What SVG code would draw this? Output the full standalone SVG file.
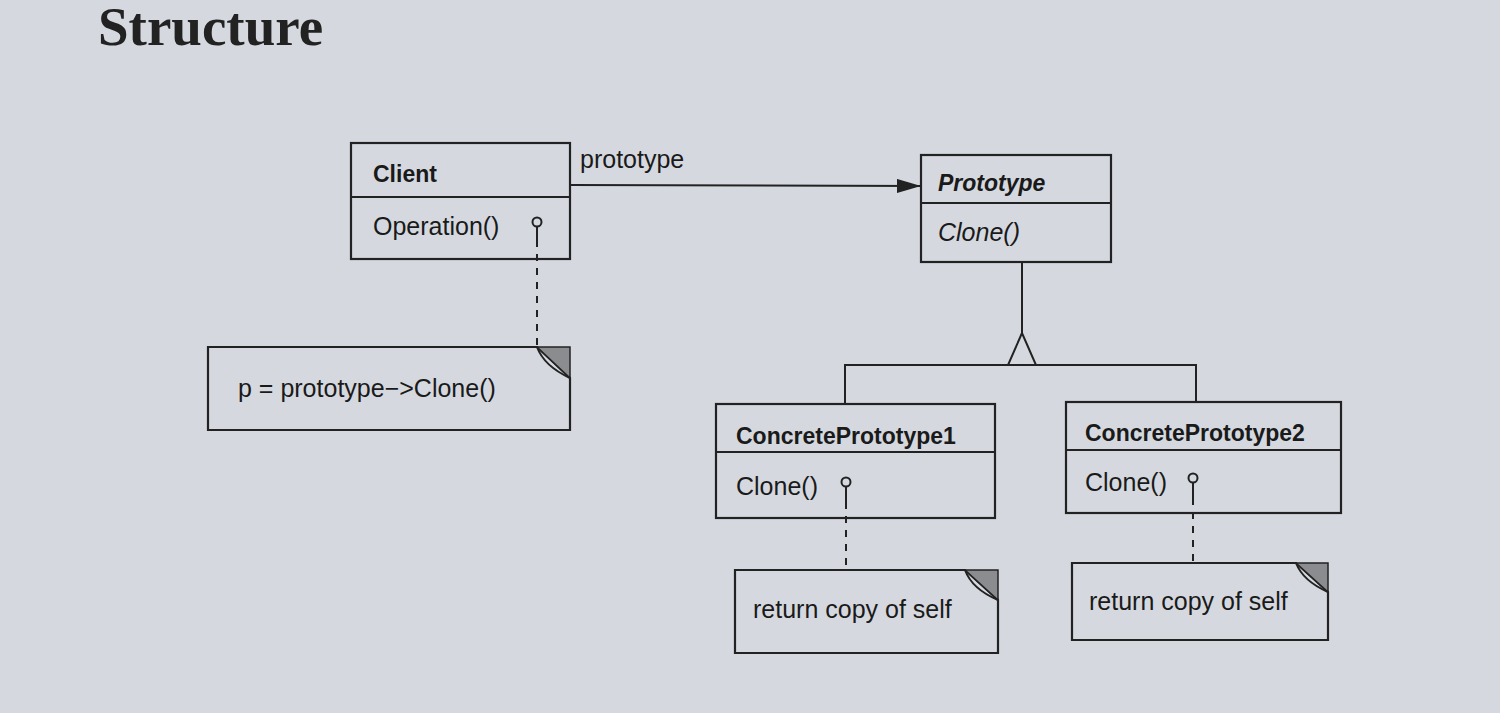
<svg xmlns="http://www.w3.org/2000/svg" width="1500" height="713" viewBox="0 0 1500 713">
<defs>
<style>
.box{fill:none;stroke:#222;stroke-width:2.2}
.ln{stroke:#222;stroke-width:2;fill:none}
.dash{stroke:#222;stroke-width:2;stroke-dasharray:7,7;fill:none}
.t{font-family:"Liberation Sans",Arial,sans-serif;font-size:25px;fill:#1a1a1a}
.b{font-weight:bold;font-size:23px}
.i{font-style:italic}
.corner{fill:#8a8c90;stroke:#222;stroke-width:1.5}
</style>
<marker id="arr" markerWidth="24" markerHeight="14" refX="23" refY="7" orient="auto" markerUnits="userSpaceOnUse">
<path d="M0,0 L24,7 L0,14 Z" fill="#222"/>
</marker>
</defs>
<rect width="1500" height="713" fill="#d5d9df"/>
<text x="98" y="45" font-family="Liberation Serif,serif" font-size="55" font-weight="bold" fill="#222">Structure</text>

<g id="connectors">
<line class="ln" x1="570" y1="185" x2="920" y2="186" marker-end="url(#arr)"/>
<text class="t" x="580" y="168">prototype</text>
<line class="dash" x1="537" y1="240" x2="537" y2="347"/>
<line class="ln" x1="1022" y1="262" x2="1022" y2="333"/>
<path class="ln" d="M1022,333 L1008,365 L1036,365 Z" fill="#d5d9df"/>
<path class="ln" d="M845,404 L845,365 L1196,365 L1196,402"/>
<line class="dash" x1="846" y1="502" x2="846" y2="570"/>
<line class="dash" x1="1193" y1="498" x2="1193" y2="563"/>
</g>

<g id="client">
<rect class="box" x="351" y="143" width="219" height="116"/>
<line class="ln" x1="351" y1="197" x2="570" y2="197"/>
<text class="t b" x="373" y="182">Client</text>
<text class="t" x="373" y="235">Operation()</text>
<circle cx="537" cy="222" r="4.5" class="ln"/>
<line class="ln" x1="537" y1="226" x2="537" y2="240"/>
</g>

<g id="note-client">
<path class="box" d="M208,347 L537,347 L570,378 L570,430 L208,430 Z"/>
<path class="corner" d="M537,347 L570,347 L570,378 Z"/>
<path class="ln" d="M537,347 Q544,366 570,378"/>
<text class="t" x="238" y="397">p = prototype−&gt;Clone()</text>
</g>

<g id="prototype">
<rect class="box" x="921" y="155" width="190" height="107"/>
<line class="ln" x1="921" y1="203" x2="1111" y2="203"/>
<text class="t b i" x="938" y="191">Prototype</text>
<text class="t i" x="938" y="241">Clone()</text>
</g>

<g id="cp1">
<rect class="box" x="716" y="404" width="279" height="114"/>
<line class="ln" x1="716" y1="452" x2="995" y2="452"/>
<text class="t b" x="736" y="444">ConcretePrototype1</text>
<text class="t" x="736" y="495">Clone()</text>
<circle cx="846" cy="482" r="4.5" class="ln"/>
<line class="ln" x1="846" y1="486" x2="846" y2="502"/>
</g>

<g id="note-cp1">
<path class="box" d="M735,570 L965,570 L998,600 L998,653 L735,653 Z"/>
<path class="corner" d="M965,570 L998,570 L998,600 Z"/>
<path class="ln" d="M965,570 Q972,589 998,600"/>
<text class="t" x="753" y="618">return copy of self</text>
</g>

<g id="cp2">
<rect class="box" x="1066" y="402" width="275" height="111"/>
<line class="ln" x1="1066" y1="450" x2="1341" y2="450"/>
<text class="t b" x="1085" y="441">ConcretePrototype2</text>
<text class="t" x="1085" y="491">Clone()</text>
<circle cx="1193" cy="478" r="4.5" class="ln"/>
<line class="ln" x1="1193" y1="482" x2="1193" y2="498"/>
</g>

<g id="note-cp2">
<path class="box" d="M1072,563 L1296,563 L1328,592 L1328,640 L1072,640 Z"/>
<path class="corner" d="M1296,563 L1328,563 L1328,592 Z"/>
<path class="ln" d="M1296,563 Q1303,581 1328,592"/>
<text class="t" x="1089" y="610">return copy of self</text>
</g>
</svg>
